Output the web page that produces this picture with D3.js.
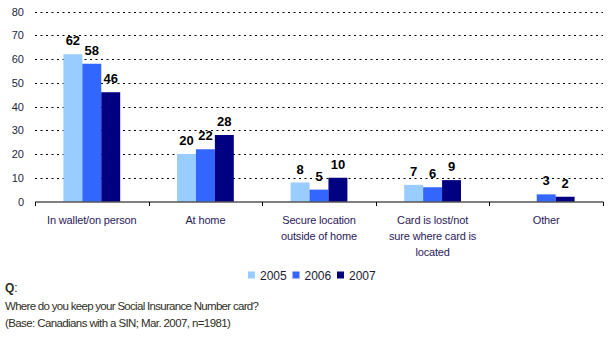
<!DOCTYPE html>
<html><head><meta charset="utf-8">
<script src="https://cdn.jsdelivr.net/npm/d3@7"></script>
<style>
html,body{margin:0;padding:0;background:#fff;}
svg{display:block;font-family:Arial,"Liberation Sans",sans-serif;}
</style></head>
<body><svg id="c" width="611" height="337"></svg>
<script>
const categories = [["In wallet/on person"],["At home"],["Secure location","outside of home"],["Card is lost/not","sure where card is","located"],["Other"]];
const years = ["2005","2006","2007"];
const v2005 = [62, 20, 8, 7, null];
const v2006 = [58, 22, 5, 6, 3];
const v2007 = [46, 28, 10, 9, 2];
const yTicks = [0,10,20,30,40,50,60,70,80];
const colors = ["#99CCFF","#3366FF","#000080"];
const series = [v2005, v2006, v2007];

const svg = d3.select("#c");
const pLeft = 35, pRight = 603, pBottom = 201.5, pTop = 11.5;
const catIdx = categories.map((d,i)=>i);
const x0 = d3.scaleBand().domain(catIdx).range([pLeft,pRight]).padding(0);
const x1 = d3.scaleBand().domain(years).range([0,x0.bandwidth()]).paddingInner(0).paddingOuter(1.5);
const y = d3.scaleLinear().domain([0,80]).range([pBottom,pTop]);

// gridlines
svg.append("g").selectAll("line").data(yTicks.filter(t=>t>0)).join("line")
  .attr("x1",pLeft).attr("x2",pRight)
  .attr("y1",d=>Math.round(y(d))+0.5).attr("y2",d=>Math.round(y(d))+0.5)
  .attr("stroke","#000").attr("stroke-width",1).attr("stroke-dasharray","2,3.5");

// y tick labels
const yAxis = d3.axisLeft(y).tickValues(yTicks).tickSize(0).tickPadding(11);
const ya = svg.append("g").attr("transform",`translate(${pLeft},0)`).call(yAxis);
ya.select(".domain").remove();
ya.selectAll("text").attr("font-size","11px").attr("fill","#1f1f3f").attr("font-family","Arial,'Liberation Sans',sans-serif");

// bars
const g = svg.append("g");
years.forEach((yr,si)=>{
  const data = series[si].map((v,i)=>({v,i})).filter(d=>d.v!==null);
  g.selectAll(null).data(data).join("rect")
    .attr("x",d=>x0(d.i)+x1(yr)).attr("width",x1.bandwidth())
    .attr("y",d=>y(d.v)).attr("height",d=>y(0)-y(d.v))
    .attr("fill",colors[si]);
  g.selectAll(null).data(data).join("text")
    .attr("x",d=>x0(d.i)+x1(yr)+x1.bandwidth()/2)
    .attr("y",d=>y(d.v)-9)
    .attr("text-anchor","middle").attr("font-size","13px").attr("font-weight","bold").attr("fill","#000")
    .text(d=>d.v);
});

// x axis
const xa = svg.append("g").attr("transform",`translate(0,${pBottom+0.5})`);
xa.append("line").attr("x1",pLeft).attr("x2",pRight+0.5).attr("stroke","#000");
const bounds = catIdx.map(i=>x0(i)).concat([pRight]);
xa.selectAll("line.t").data(bounds).join("line").attr("class","t")
  .attr("x1",d=>Math.round(d)+0.5).attr("x2",d=>Math.round(d)+0.5).attr("y1",0).attr("y2",4).attr("stroke","#000");

// category labels
const cl = svg.append("g");
categories.forEach((lines,i)=>{
  const t = cl.append("text").attr("x",x0(i)+x0.bandwidth()/2).attr("y",224)
    .attr("text-anchor","middle").attr("font-size","11px").attr("letter-spacing","-0.15px").attr("fill","#2b1a5a");
  lines.forEach((l,k)=>t.append("tspan").attr("x",x0(i)+x0.bandwidth()/2).attr("dy",k?16:0).text(l));
});

// legend
const lg = svg.append("g");
years.forEach((yr,si)=>{
  const lx = 248 + si*44.5;
  lg.append("rect").attr("x",lx).attr("y",271.5).attr("width",7).attr("height",7).attr("fill",colors[si]);
  lg.append("text").attr("x",lx+12).attr("y",279.5).attr("font-size","12px").attr("fill","#1a1a33").text(yr);
});

// question text
const qt = svg.append("g").attr("fill","#2e2e1e");
qt.append("text").attr("x",5).attr("y",292).attr("font-size","12px").attr("font-weight","bold").text("Q")
  .append("tspan").attr("font-weight","normal").text(":");
qt.append("text").attr("x",5).attr("y",309.5).attr("font-size","11.5px").attr("letter-spacing","-0.7px").text("Where do you keep your Social Insurance Number card?");
qt.append("text").attr("x",5).attr("y",326.5).attr("font-size","11.5px").attr("letter-spacing","-0.6px").text("(Base: Canadians with a SIN; Mar. 2007, n=1981)");
</script></body></html>
